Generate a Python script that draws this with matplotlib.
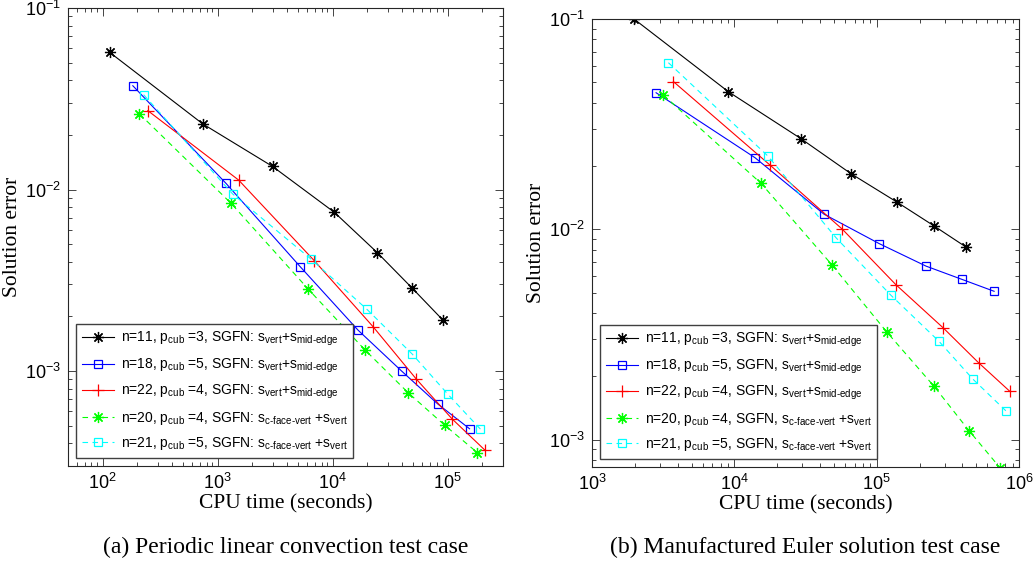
import matplotlib
matplotlib.use("Agg")
import matplotlib.pyplot as plt
from matplotlib.ticker import LogLocator, NullFormatter

plt.rcParams['font.family'] = ['Liberation Sans', 'DejaVu Sans']
plt.rcParams['mathtext.fontset'] = 'custom'
plt.rcParams['mathtext.rm'] = 'Liberation Sans'
plt.rcParams['mathtext.it'] = 'Liberation Sans:italic'
plt.rcParams['mathtext.bf'] = 'Liberation Sans:bold'

# (a) periodic linear convection
a_n11_t = [115, 741, 3000, 10300, 24400, 49100, 90600]
a_n11_e = [0.057, 0.023, 0.0134, 0.0075, 0.00449, 0.00286, 0.00191]
a_n18_t = [183, 1183, 5210, 16600, 39700, 82000, 154600]
a_n18_e = [0.0373, 0.0108, 0.00376, 0.00168, 0.00100, 0.000658, 0.000481]
a_n22_t = [247, 1520, 6900, 22500, 53200, 109000, 210000]
a_n22_e = [0.0272, 0.01128, 0.00406, 0.00175, 0.000904, 0.000545, 0.000367]
a_n20_t = [209, 1306, 6150, 19000, 45400, 93700, 180000]
a_n20_e = [0.0261, 0.0084, 0.00282, 0.00131, 0.000758, 0.000504, 0.000356]
a_n21_t = [227, 1350, 6530, 19800, 49100, 100000, 192000]
a_n21_e = [0.0333, 0.00945, 0.00412, 0.00219, 0.00124, 0.000746, 0.000479]

# (b) manufactured Euler solution
b_n11_t = [1974, 9080, 29300, 65800, 138000, 253000, 423000]
b_n11_e = [0.1, 0.0451, 0.027, 0.0184, 0.0135, 0.01037, 0.00824]
b_n18_t = [2820, 13960, 42700, 104000, 222000, 396000, 668000]
b_n18_e = [0.0446, 0.0219, 0.01179, 0.00855, 0.00668, 0.00578, 0.00507]
b_n22_t = [3730, 17800, 57400, 136000, 294000, 519000, 857000]
b_n22_e = [0.0504, 0.0202, 0.0100, 0.00546, 0.00339, 0.00232, 0.0017]
b_n20_t = [3170, 15400, 48300, 118000, 253000, 446000, 736000]
b_n20_e = [0.0435, 0.01653, 0.00679, 0.00324, 0.00179, 0.0011, 0.000733]
b_n21_t = [3440, 17200, 51900, 126000, 274000, 473000, 807000]
b_n21_e = [0.062, 0.0223, 0.0091, 0.00485, 0.00293, 0.00194, 0.00137]

mid = r"$_{\mathrm{vert}}$+s$_{\mathrm{mid\text{-}edge}}$"
cfv = r"$_{\mathrm{c\text{-}face\text{-}vert}}$ +s$_{\mathrm{vert}}$"
labels_a = [r"n=11, p$_{\mathrm{cub}}$ =3, SGFN: s" + mid,
            r"n=18, p$_{\mathrm{cub}}$ =5, SGFN: s" + mid,
            r"n=22, p$_{\mathrm{cub}}$ =4, SGFN: s" + mid,
            r"n=20, p$_{\mathrm{cub}}$ =4, SGFN: s" + cfv,
            r"n=21, p$_{\mathrm{cub}}$ =5, SGFN: s" + cfv]
labels_b = [r"n=11, p$_{\mathrm{cub}}$ =3, SGFN: s" + mid,
            r"n=18, p$_{\mathrm{cub}}$ =5, SGFN, s" + mid,
            r"n=22, p$_{\mathrm{cub}}$ =4, SGFN, s" + mid,
            r"n=20, p$_{\mathrm{cub}}$ =4, SGFN, s" + cfv,
            r"n=21, p$_{\mathrm{cub}}$ =5, SGFN, s" + cfv]

styles = [dict(color='k', ls='-', marker=(8, 2, 0), ms=8, mew=0.9),
          dict(color='b', ls='-', marker='s', ms=6, mfc='none', mew=0.9),
          dict(color='r', ls='-', marker='+', ms=9, mew=0.9),
          dict(color=(0, 1, 0), ls=(0, (5, 4)), marker=(8, 2, 0), ms=8, mew=0.9),
          dict(color=(0, 1, 1), ls=(0, (5, 4)), marker='s', ms=6, mfc='none', mew=0.9)]

fig = plt.figure(figsize=(10.35, 5.63), dpi=100)
ax1 = fig.add_axes([0.0657, 0.1723, 0.420, 0.8135])
ax2 = fig.add_axes([0.572, 0.1705, 0.4126, 0.7957])

def draw(ax, data, labels, xlim, ylim, caption):
    for (t, e), lab, st in zip(data, labels, styles):
        ax.plot(t, e, lw=0.8, label=lab, **st)
    ax.set_xscale('log')
    ax.set_yscale('log')
    ax.set_xlim(*xlim)
    ax.set_ylim(*ylim)
    ax.xaxis.set_minor_locator(LogLocator(base=10, subs=range(2, 10), numticks=20))
    ax.yaxis.set_minor_locator(LogLocator(base=10, subs=range(2, 10), numticks=20))
    ax.xaxis.set_minor_formatter(NullFormatter())
    ax.yaxis.set_minor_formatter(NullFormatter())
    ax.tick_params(which='both', direction='in', top=True, right=True,
                   labelsize=13, color='#262626', width=0.6, pad=5)
    ax.tick_params(which='major', length=6)
    ax.tick_params(which='minor', length=3)
    for s in ax.spines.values():
        s.set_color('#262626')
        s.set_linewidth(0.8)
    ax.set_xlabel("CPU time (seconds)", family='Liberation Serif', fontsize=15.5, labelpad=1)
    ax.set_ylabel("Solution error", family='Liberation Serif', fontsize=15.5, labelpad=2)
    leg = ax.legend(loc='lower left', fontsize=10, fancybox=False, framealpha=1,
                    edgecolor='#404040', borderaxespad=0.6, handlelength=2.3,
                    labelspacing=0.6, handletextpad=0.5, borderpad=0.4)
    leg.get_frame().set_linewidth(1.0)
    bb = ax.get_position()
    fig.text((bb.x0 + bb.x1) / 2, 1 - 547 / 563, caption, ha='center', va='center',
             family='Liberation Serif', fontsize=17)

draw(ax1, [(a_n11_t, a_n11_e), (a_n18_t, a_n18_e), (a_n22_t, a_n22_e),
           (a_n20_t, a_n20_e), (a_n21_t, a_n21_e)], labels_a,
     (50, 3e5), (3e-4, 0.1), "(a) Periodic linear convection test case")
draw(ax2, [(b_n11_t, b_n11_e), (b_n18_t, b_n18_e), (b_n22_t, b_n22_e),
           (b_n20_t, b_n20_e), (b_n21_t, b_n21_e)], labels_b,
     (1e3, 1e6), (7.4e-4, 0.1), "(b) Manufactured Euler solution test case")

fig.savefig("out.png", dpi=100)
